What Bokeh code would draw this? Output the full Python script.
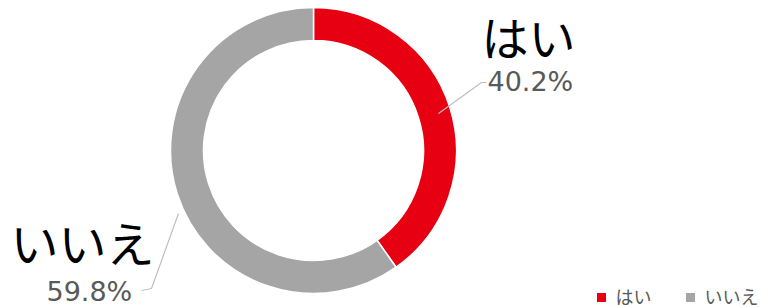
import numpy as np
from bokeh.plotting import figure
from bokeh.models import Range1d
from bokeh.core.properties import value
from bokeh.embed import file_html
from bokeh.resources import INLINE

# ---- data ----
categories = ["はい", "いいえ"]
shares = [40.2, 59.8]
colors = ["#E60012", "#A5A5A5"]

W, H = 773, 307


def X(rx):
    return rx


def Y(ry):
    return H - ry


p = figure(width=W, height=H, output_backend="svg", toolbar_location=None,
           x_range=Range1d(0, W), y_range=Range1d(0, H),
           min_border=0, outline_line_color=None, background_fill_color="white")
p.axis.visible = False
p.grid.visible = False

# donut
frac = np.array(shares) / np.sum(shares)
cum = np.concatenate([[0], np.cumsum(frac)])
start = np.pi / 2 - 2 * np.pi * cum[1:]
end = np.pi / 2 - 2 * np.pi * cum[:-1]
cx, cy = X(313), Y(150)
p.annular_wedge(x=cx, y=cy, inner_radius=110, outer_radius=143,
                start_angle=start, end_angle=end, direction="anticlock",
                fill_color=colors, line_color="white", line_width=1.5)

# leader lines
lead = "#BFBFBF"
p.line([X(438), X(481), X(486)], [Y(113), Y(82), Y(82)], line_color=lead, line_width=1.2)
p.line([X(178), X(151), X(141)], [Y(213), Y(288), Y(290)], line_color=lead, line_width=1.2)

pct = [f"{v:.1f}%" for v in shares]
jp = value("Noto Sans CJK JP")
num = value("DejaVu Sans")

# big category labels
p.text(x=[X(481)], y=[Y(0)], text=[categories[0]], text_font=jp, text_font_size="47px",
       text_color="black", text_baseline="top", text_align="left")
p.text(x=[X(10)], y=[Y(240)], text=[categories[1]], text_font=jp, text_font_size="48px",
       text_color="black", text_baseline="alphabetic", text_align="left")

# percentage labels
p.text(x=[X(487)], y=[Y(81)], text=[pct[0]], text_font=num, text_font_size="27px",
       text_color="#595959", text_baseline="alphabetic", text_align="left")
p.text(x=[X(46)], y=[Y(291)], text=[pct[1]], text_font=num, text_font_size="27px",
       text_color="#595959", text_baseline="alphabetic", text_align="left")

# legend
p.scatter(x=[X(601), X(690)], y=[Y(297), Y(297)], marker="square", size=9,
          fill_color=colors, line_color=None)
p.text(x=[X(615), X(704)], y=[Y(295), Y(295)], text=categories, text_font=jp,
       text_font_size="18px", text_color="#595959", text_baseline="alphabetic",
       text_align="left")

open("out.html", "w").write(file_html(p, INLINE))
